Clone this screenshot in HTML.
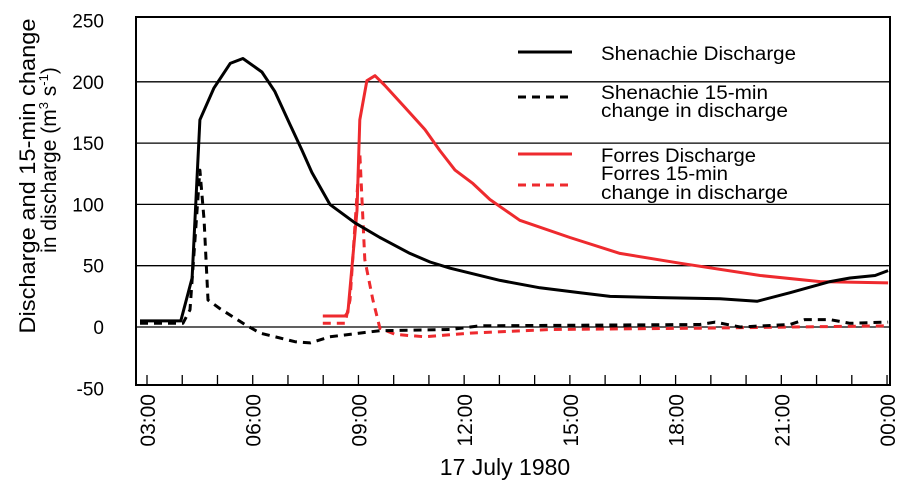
<!DOCTYPE html>
<html><head><meta charset="utf-8"><style>
html,body{margin:0;padding:0;background:#fff;}
svg{display:block;font-family:"Liberation Sans",sans-serif;}
</style></head><body>
<svg id="chart" width="908" height="494" viewBox="0 0 908 494" xmlns="http://www.w3.org/2000/svg">
<g id="grid"></g>
<g id="series"></g>
<g id="axes"></g>
<g id="legend"></g>
</svg>
<script>
const yTicks = [250, 200, 150, 100, 50, 0, -50];
const xTickHours = [3, 6, 9, 12, 15, 18, 21, 24];
const xTickLabels = ["03:00", "06:00", "09:00", "12:00", "15:00", "18:00", "21:00", "00:00"];

const shenT = [2.80,3.96,4.28,4.50,4.90,5.36,5.72,6.26,6.63,7.06,7.40,7.68,8.19,8.90,9.61,10.46,11.03,11.60,13.02,14.15,15.29,16.14,17.56,19.26,20.31,21.25,22.38,22.95,23.66,24.03];
const shenQ = [5,5,40,169,195,215,219,208,192,165,144,126,100,85,73,60,53,48,38,32,28,25,24,23,21,28,37,40,42,46];

const shenDT = [2.80,4.02,4.22,4.50,4.62,4.73,5.07,5.78,6.21,7.20,7.63,8.19,9.04,9.61,11.60,12.45,18.69,19.12,19.83,21.25,21.67,22.38,22.95,24.03];
const shenDQ = [3,3,14,128,87,22,15,2,-5,-12,-13,-8,-5,-3,-2,1,2,4,0,2,6,6,3,4];

const forT = [7.99,8.62,8.70,8.96,9.04,9.24,9.47,9.75,10.32,10.89,11.31,11.74,12.25,12.73,13.58,15.00,16.42,18.12,20.40,22.10,24.03];
const forQ = [9,9,12,95,169,201,205,197,179,161,144,128,117,104,87,73,60,52,42,37,36];

const forDT = [7.99,8.62,8.76,9.04,9.18,9.41,9.61,10.04,10.89,12.17,14.44,18.69,24.03];
const forDQ = [3,3,22,142,55,22,-1,-6,-8,-5,-2,-1,1];

const NS = "http://www.w3.org/2000/svg";
const L = 136, R = 890, T = 17, B = 385;
function xs(t){ return 147 + (t - 3) * 35.24; }
function ys(v){ return 327 - v * 1.226; }
function mk(tag, attrs, parent){
  const e = document.createElementNS(NS, tag);
  for (const k in attrs) e.setAttribute(k, attrs[k]);
  parent.appendChild(e); return e;
}
const grid = document.getElementById('grid');
const axes = document.getElementById('axes');
const series = document.getElementById('series');
const legend = document.getElementById('legend');

yTicks.forEach((v) => {
  if (v !== 250 && v !== -50) {
    const g = mk('line', {x1:L, x2:R, y1:ys(v), y2:ys(v), stroke:'#000', 'stroke-width':1.3}, grid);
    
    
  }
  const t = mk('text', {x:104, y:ys(v)+7, 'text-anchor':'end', 'font-size':19, fill:'#000'}, axes);
  t.textContent = v;
  
  
});

const box = mk('rect', {x:L, y:T, width:R-L, height:B-T, fill:'none', stroke:'#000', 'stroke-width':2}, axes);



for (let h = 3; h <= 24; h++) {
  const tk = mk('line', {x1:xs(h), x2:xs(h), y1:B, y2:B-10, stroke:'#000', 'stroke-width':1.3}, axes);
  
  
}
xTickHours.forEach((h, i) => {
  const x = xs(h);
  const t = mk('text', {x:0, y:0, 'text-anchor':'end', 'font-size':21, fill:'#000', transform:'translate(' + (x+8) + ',394) rotate(-90)'}, axes);
  t.textContent = xTickLabels[i];
  
  
});

const xt = mk('text', {x:505, y:475, 'text-anchor':'middle', 'font-size':23, fill:'#000'}, axes);
xt.textContent = '17 July 1980';



const yt = mk('text', {x:0, y:0, 'text-anchor':'middle', 'font-size':22, fill:'#000', textLength:315, lengthAdjust:'spacingAndGlyphs', transform:'translate(35,176) rotate(-90)'}, axes);
yt.textContent = 'Discharge and 15-min change';



const yt2 = mk('text', {x:0, y:0, 'text-anchor':'middle', 'font-size':22, fill:'#000', transform:'translate(56,160) rotate(-90)'}, axes);


[['in discharge (m',0,21],['3',-8,13],[' s',8,21],['-1',-8,13],[')',8,21]].forEach(p => {
  const ts = mk('tspan', {dy:p[1], 'font-size':p[2]}, yt2);
  ts.textContent = p[0];
});

function drawLine(ts, vs, color, dash, name){
  const d = ts.map((t, i) => (i ? 'L' : 'M') + xs(t).toFixed(1) + ',' + ys(vs[i]).toFixed(1)).join(' ');
  const p = mk('path', {d:d, fill:'none', stroke:color, 'stroke-width':3, 'stroke-linejoin':'round'}, series);
  if (dash) p.setAttribute('stroke-dasharray', dash);
  
  
}
drawLine(forDT, forDQ, '#ee2a2e', '8,6', 'forres-change-line');
drawLine(shenDT, shenDQ, '#000', '8,6', 'shenachie-change-line');
drawLine(forT, forQ, '#ee2a2e', null, 'forres-discharge-line');
drawLine(shenT, shenQ, '#000', null, 'shenachie-discharge-line');

const legItems = [
  {y:52, color:'#000', dash:null, lines:['Shenachie Discharge'], ty:[60], tl:[195], name:'legend-shenachie-discharge'},
  {y:97, color:'#000', dash:'8,6', lines:['Shenachie 15-min','change in discharge'], ty:[99,117], tl:[167,187], name:'legend-shenachie-change'},
  {y:154, color:'#ee2a2e', dash:null, lines:['Forres Discharge'], ty:[162], tl:[155], name:'legend-forres-discharge'},
  {y:185, color:'#ee2a2e', dash:'8,6', lines:['Forres 15-min','change in discharge'], ty:[180,199], tl:[127,187], name:'legend-forres-change'}
];
legItems.forEach(it => {
  const g = mk('g', {}, legend);
  
  
  const ln = mk('line', {x1:518, x2:572, y1:it.y, y2:it.y, stroke:it.color, 'stroke-width':3}, g);
  if (it.dash) ln.setAttribute('stroke-dasharray', it.dash);
  it.lines.forEach((s, i) => {
    const t = mk('text', {x:601, y:it.ty[i], 'font-size':19, fill:'#000', textLength:it.tl[i], lengthAdjust:'spacingAndGlyphs'}, g);
    t.textContent = s;
  });
});
</script>
</body></html>
